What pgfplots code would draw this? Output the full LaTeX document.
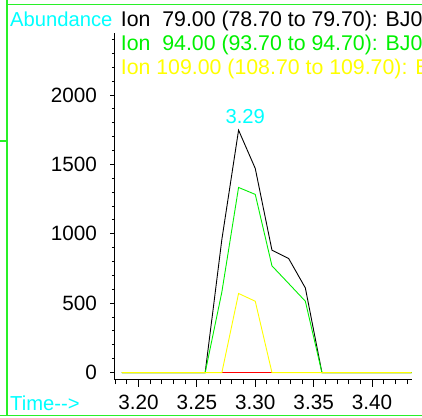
\documentclass[border=0pt]{standalone}
\usepackage{fontspec}
\setmainfont{Liberation Sans}
\usepackage{pgfplots}
\pgfplotsset{compat=1.18}
\definecolor{hpgreen}{RGB}{0,240,0}
\definecolor{hpframe}{RGB}{40,240,40}
\definecolor{hpcyan}{RGB}{0,255,255}
\definecolor{hpyellow}{RGB}{255,255,0}
\definecolor{hpred}{RGB}{255,0,0}
\begin{document}%
\fontsize{20.2bp}{24bp}\selectfont%
\begin{tikzpicture}[x=1bp,y=1bp]
\begin{axis}[
  scale only axis, width=297.7bp, height=346.2bp,
  xmin=3.179, xmax=3.434, ymin=-50, ymax=2445,
  enlargelimits=false,
  axis x line*=bottom, axis y line*=left,
  axis line style={black, line width=0.9bp},
  tick align=outside,
  xtick={3.20,3.25,3.30,3.35,3.40},
  minor xtick={3.18,3.19,3.21,3.22,3.23,3.24,3.26,3.27,3.28,3.29,3.31,3.32,3.33,3.34,3.36,3.37,3.38,3.39,3.41,3.42,3.43},
  ytick={0,500,1000,1500,2000},
  minor ytick={100,200,300,400,600,700,800,900,1100,1200,1300,1400,1600,1700,1800,1900,2100,2200,2300,2400},
  x tick style={black, line width=0.9bp, /pgfplots/major tick length=7bp, /pgfplots/minor tick length=4.5bp},
  y tick style={black, line width=0.9bp, /pgfplots/major tick length=3.5bp, /pgfplots/minor tick length=2bp},
  tick label style={font=\fontsize{20.7bp}{24bp}\selectfont, black},
  xticklabel style={yshift=-4bp, /pgf/number format/.cd, fixed, fixed zerofill, precision=2, assume math mode=true},
  yticklabel style={xshift=-6bp, /pgf/number format/.cd, fixed, 1000 sep={}, assume math mode=true},
  scaled ticks=false,
  clip=true,
]
\addplot[hpred, line width=0.9bp] coordinates {
(3.1857,0) (3.2000,0) (3.2143,0) (3.2286,0) (3.2429,0) (3.2571,0) (3.2714,0) (3.2857,0) (3.3000,0) (3.3143,0) (3.3286,0) (3.3429,0) (3.3571,0) (3.3714,0) (3.3857,0) (3.4000,0) (3.4143,0) (3.4286,0) (3.4429,0)};
\addplot[black, line width=0.9bp] coordinates {
(3.1857,0) (3.2000,0) (3.2143,0) (3.2286,0) (3.2429,0) (3.2571,0) (3.2714,960) (3.2857,1747) (3.3000,1471) (3.3143,882) (3.3286,822) (3.3429,610) (3.3571,0) (3.3714,0) (3.3857,0) (3.4000,0) (3.4143,0) (3.4286,0) (3.4429,0)};
\addplot[hpgreen, line width=0.9bp] coordinates {
(3.1857,0) (3.2000,0) (3.2143,0) (3.2286,0) (3.2429,0) (3.2571,0) (3.2714,581) (3.2857,1334) (3.3000,1284) (3.3143,769) (3.3286,642) (3.3429,514) (3.3571,0) (3.3714,0) (3.3857,0) (3.4000,0) (3.4143,0) (3.4286,0) (3.4429,0)};
\addplot[hpyellow, line width=0.9bp] coordinates {
(3.1857,0) (3.2000,0) (3.2143,0) (3.2286,0) (3.2429,0) (3.2571,0) (3.2714,0) (3.2857,570) (3.3000,514) (3.3143,0) (3.3286,0) (3.3429,0) (3.3571,0) (3.3714,0) (3.3857,0) (3.4000,0) (3.4143,0) (3.4286,0) (3.4429,0)};
\node[hpcyan, anchor=base, inner sep=0pt, xshift=6.7bp, yshift=6.7bp] at (axis cs:3.2857,1747) {3.29};
\coordinate (O) at (rel axis cs:0,0);
\end{axis}
\begin{scope}[shift={(O)}, xshift=-114bp, yshift=-38.5bp]
\path (0,0) rectangle (422,418);
\clip (0,0) rectangle (422,418);
% window frame decoration
\draw[hpframe, line width=2bp] (7,3) -- (7,418);
\draw[hpframe, line width=1bp] (7,413.5) -- (422,413.5);
\draw[hpframe, line width=2bp] (0,277.5) -- (7,277.5);
\draw[hpframe, line width=1bp] (0,3) -- (422,3);
% header texts
\node[hpcyan, anchor=base west, inner sep=0pt] at (10,392) {Abundance};
\begin{scope}[every node/.style={anchor=base west, inner sep=0pt, font=\fontsize{21.3bp}{24bp}\selectfont}]
\node[black] at (120.7,392) {Ion~~79.00 (78.70 to 79.70): BJ0};
\node[hpgreen] at (120.7,367.3) {Ion~~94.00 (93.70 to 94.70): BJ0};
\node[hpyellow] at (120.7,344) {Ion 109.00 (108.70 to 109.70): BJ0};
\end{scope}
\node[hpcyan, anchor=base west, inner sep=0pt] at (10,8) {Time-{}-{}>};
\end{scope}
\end{tikzpicture}%
\end{document}
